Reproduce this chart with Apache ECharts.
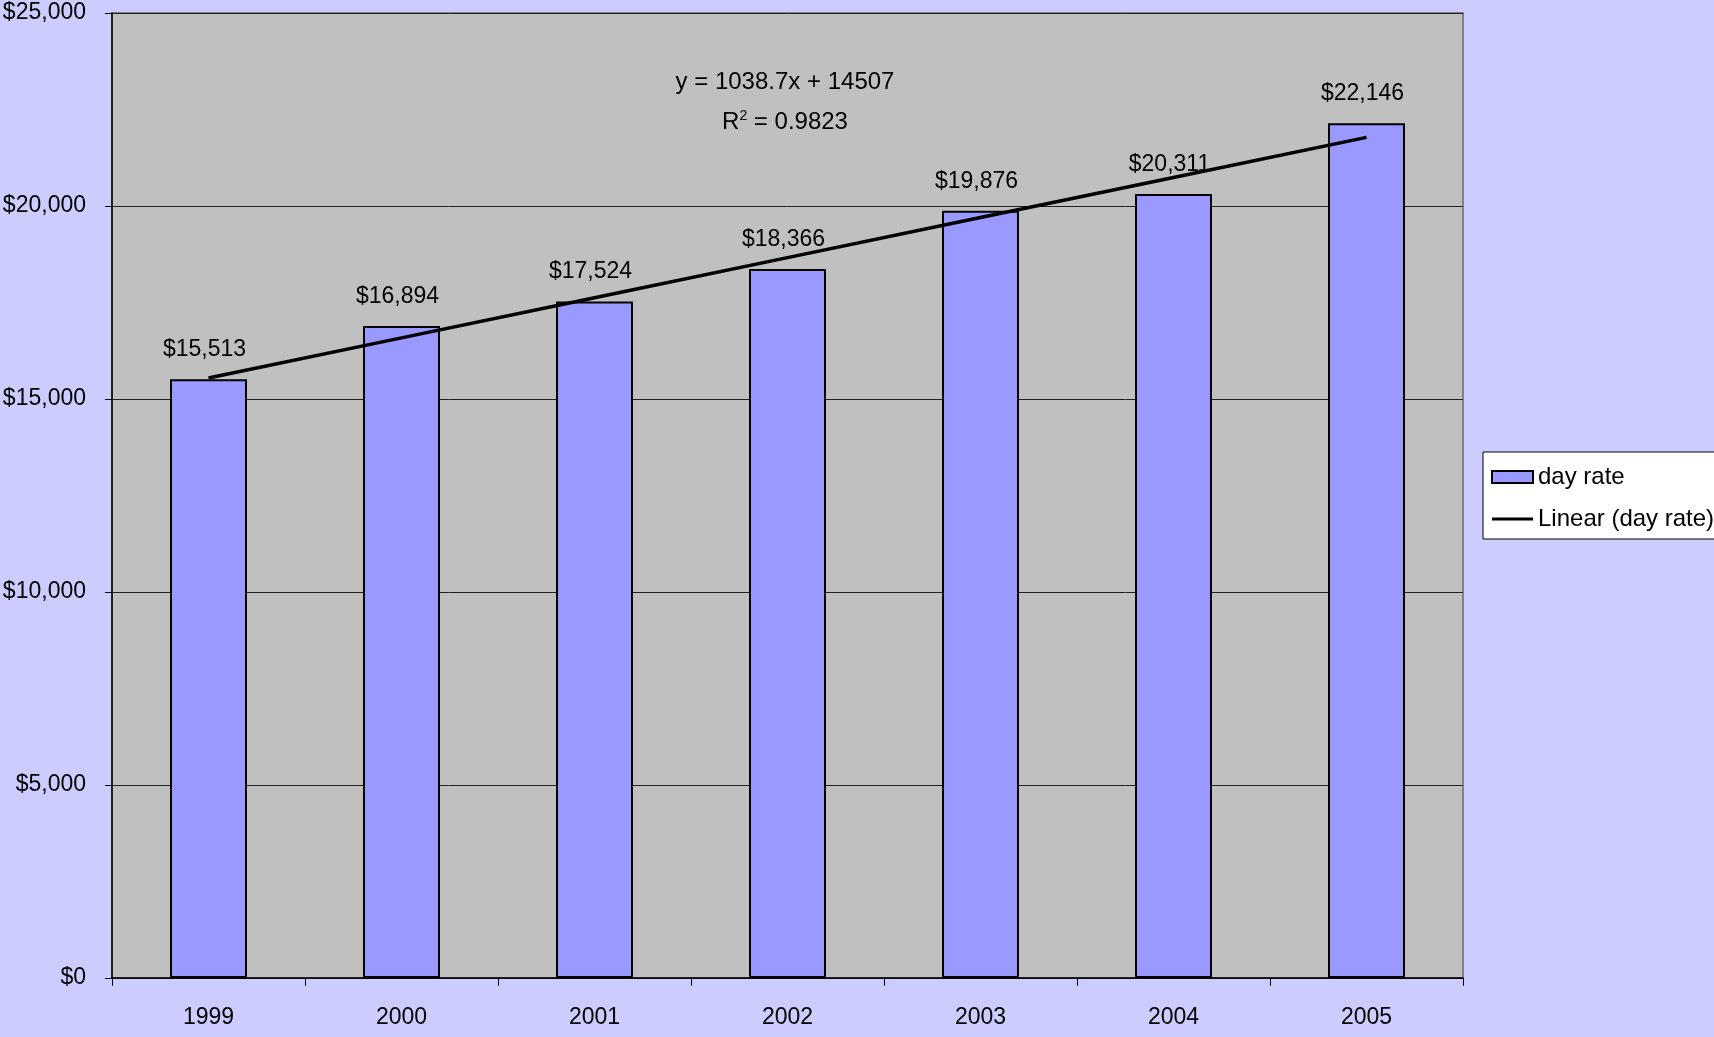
<!DOCTYPE html>
<html>
<head>
  <meta charset="UTF-8">
  <title>day rate</title>
  <script src="https://cdn.jsdelivr.net/npm/echarts@6/dist/echarts.min.js"></script>
  <style>
    html, body { margin: 0; padding: 0; background: #CCCCFF; }
    #chart { width: 1714px; height: 1037px; }
  </style>
</head>
<body>
  <div id="chart"></div>
  <script>
    // data
    var years = ['1999', '2000', '2001', '2002', '2003', '2004', '2005'];
    var dayRate = [15513, 16894, 17524, 18366, 19876, 20311, 22146];
    // linear trend (y = 1038.7x + 14507), values at each year
    var trend = [15546, 16584, 17623, 18662, 19701, 20739, 21778];
    var equation = 'y = 1038.7x + 14507';
    var rSquared = '0.9823';

    var font = '"Liberation Sans", Arial, sans-serif';

    function money(v) {
      return '$' + Number(v).toLocaleString('en-US');
    }

    var chart = echarts.init(document.getElementById('chart'));
    var option = {
      backgroundColor: '#CCCCFF',
      animation: false,
      textStyle: { fontFamily: font, color: '#000' },
      grid: {
        left: 112, right: 251, top: 13, bottom: 59,
        outerBoundsMode: 'none',
        containLabel: false,
        show: true,
        backgroundColor: '#C0C0C0',
        borderColor: '#808080',
        borderWidth: 2
      },
      legend: {
        orient: 'vertical',
        left: 1483, top: 452,
        backgroundColor: '#fff',
        borderColor: '#000',
        borderWidth: 1,
        padding: [12, 4, 7, 8],
        itemWidth: 41, itemHeight: 12,
        itemGap: 16,
        textStyle: { fontFamily: font, fontSize: 24, color: '#000', lineHeight: 26 },
        data: [
          { name: 'day rate', icon: 'rect' },
          { name: 'Linear (day rate)', icon: 'path://M0,0 M41,12 M0,4.5 L41,4.5 L41,7.5 L0,7.5 Z' }
        ]
      },
      graphic: [
        {
          type: 'text', x: 785, y: 82,
          style: {
            text: equation, fontFamily: font, fontSize: 24, fill: '#000',
            align: 'center', verticalAlign: 'middle'
          }
        },
        {
          type: 'text', x: 785, y: 122,
          style: {
            text: 'R{sup|2} = ' + rSquared, fontFamily: font, fontSize: 24, fill: '#000',
            align: 'center', verticalAlign: 'middle',
            rich: { sup: { fontFamily: font, fontSize: 14, verticalAlign: 'top', padding: [0, 0, 12, 0] } }
          }
        }
      ],
      xAxis: {
        type: 'category',
        data: years,
        boundaryGap: true,
        axisLine: { lineStyle: { color: '#000', width: 1.5 } },
        axisTick: { show: true, length: 8, lineStyle: { color: '#000' } },
        axisLabel: { fontFamily: font, fontSize: 23, color: '#000', margin: 28 }
      },
      yAxis: {
        type: 'value',
        min: 0, max: 25000, interval: 5000,
        axisLine: { show: true, lineStyle: { color: '#000', width: 1.5 } },
        axisTick: { show: true, length: 7, lineStyle: { color: '#000' } },
        splitLine: { show: true, lineStyle: { color: '#222', width: 1 } },
        axisLabel: { fontFamily: font, fontSize: 23, color: '#000', margin: 26, formatter: money }
      },
      series: [
        {
          name: 'day rate',
          type: 'bar',
          data: dayRate,
          barWidth: 77,
          itemStyle: { color: '#9999FF', borderColor: '#000', borderWidth: 2 },
          label: {
            show: true, position: 'top', distance: 18, offset: [-4, 0],
            fontFamily: font, fontSize: 23, color: '#000',
            formatter: function (p) { return money(p.value); }
          },
          z: 2
        },
        {
          name: 'Linear (day rate)',
          type: 'line',
          data: trend,
          symbol: 'none',
          lineStyle: { color: '#000', width: 3.5 },
          itemStyle: { color: '#000' },
          z: 3
        }
      ]
    };
    chart.setOption(option);
  </script>
</body>
</html>
